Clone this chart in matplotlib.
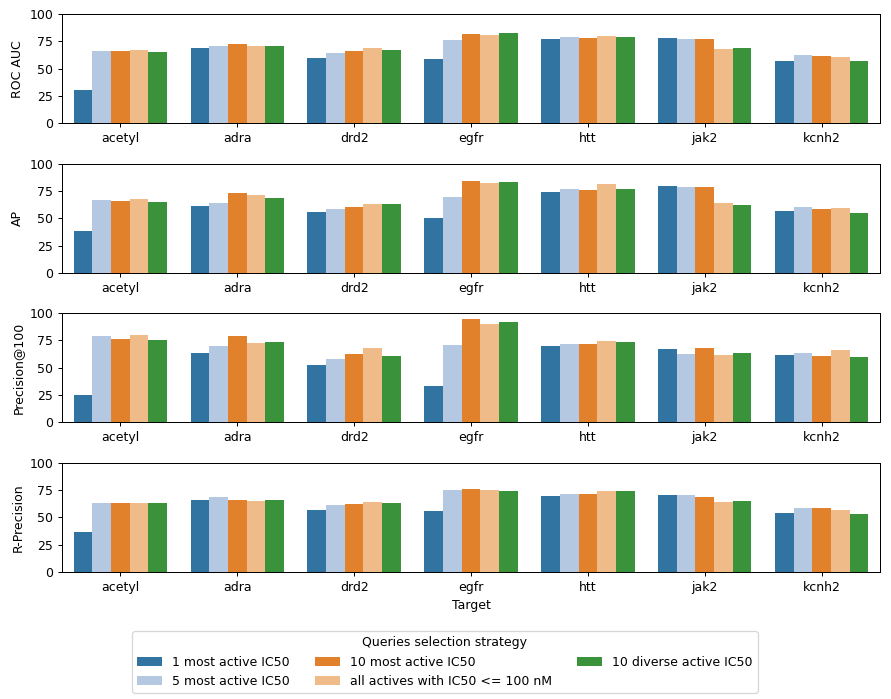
import pandas as pd
import matplotlib
matplotlib.use("Agg")
import matplotlib.pyplot as plt
import seaborn as sns

targets = ['acetyl', 'adra', 'drd2', 'egfr', 'htt', 'jak2', 'kcnh2']
strategies = ['1 most active IC50', '5 most active IC50', '10 most active IC50',
              'all actives with IC50 <= 100 nM', '10 diverse active IC50']
metrics = ['ROC AUC', 'AP', 'Precision@100', 'R-Precision']

# values per strategy, one entry per target
roc_auc = [
    [30.9, 68.8, 59.4, 58.5, 77.6, 78.5, 57.0],
    [65.8, 71.2, 63.9, 75.8, 79.4, 76.7, 62.1],
    [66.0, 72.7, 65.8, 82.1, 77.9, 77.6, 61.2],
    [67.3, 71.2, 68.5, 81.2, 80.3, 67.9, 60.9],
    [65.5, 70.9, 67.0, 82.4, 78.8, 68.8, 57.0],
]
ap = [
    [38.7, 61.3, 56.1, 50.3, 73.8, 79.9, 57.0],
    [66.8, 64.0, 58.2, 69.2, 77.1, 78.4, 60.0],
    [65.9, 73.5, 60.0, 83.8, 75.9, 79.0, 58.8],
    [68.0, 71.0, 63.4, 82.6, 81.1, 63.7, 59.8],
    [64.6, 68.9, 63.4, 82.9, 77.1, 62.2, 54.6],
]
precision_100 = [
    [25.5, 63.5, 52.6, 33.7, 69.6, 66.9, 61.7],
    [78.7, 69.6, 57.8, 70.5, 71.7, 62.9, 63.8],
    [76.6, 78.7, 62.6, 94.8, 71.7, 67.8, 60.5],
    [79.6, 72.6, 67.8, 89.7, 74.8, 61.7, 66.0],
    [75.7, 73.6, 60.5, 91.8, 73.6, 63.8, 59.6],
]
r_precision = [
    [36.6, 65.9, 56.4, 55.8, 69.5, 70.1, 53.7],
    [62.8, 68.9, 61.3, 75.0, 71.3, 70.1, 58.2],
    [63.1, 65.5, 62.5, 75.6, 71.3, 68.9, 58.2],
    [63.4, 64.9, 64.0, 75.0, 74.4, 64.0, 57.0],
    [63.1, 65.9, 63.1, 74.1, 74.4, 65.2, 53.0],
]

colors = ['#1f77b4', '#aec7e8', '#ff7f0e', '#ffbb78', '#2ca02c']

rows = []
for metric, table in zip(metrics, [roc_auc, ap, precision_100, r_precision]):
    for strat, vals in zip(strategies, table):
        for t, v in zip(targets, vals):
            rows.append({'Target': t, 'strategy': strat, 'metric': metric, 'value': v})
df = pd.DataFrame(rows)

fig, axes = plt.subplots(4, 1, figsize=(891/90, 699/90), dpi=90)
fig.subplots_adjust(left=62/891, right=880/891, top=1-14/699, bottom=1-572/699, hspace=0.367)

for ax, metric in zip(axes, metrics):
    sub = df[df['metric'] == metric]
    sns.barplot(data=sub, x='Target', y='value', hue='strategy', hue_order=strategies,
                order=targets, palette=colors, ax=ax)
    ax.set_ylim(0, 100)
    ax.set_yticks([0, 25, 50, 75, 100])
    ax.set_ylabel(metric)
    ax.get_legend().remove()
    if ax is not axes[-1]:
        ax.set_xlabel('')

handles, labels = axes[0].get_legend_handles_labels()
fig.legend(handles, labels, title='Queries selection strategy', ncol=3,
           loc='upper center', bbox_to_anchor=(445/891, 1-625/699))

fig.savefig('out.png', dpi=90)
